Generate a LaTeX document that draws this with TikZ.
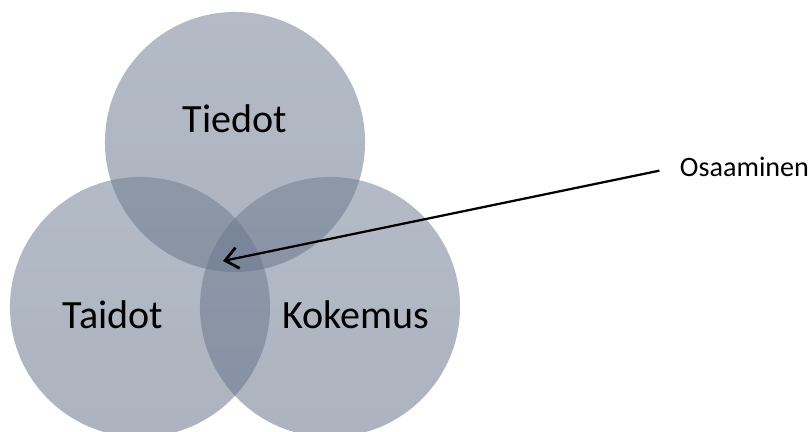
\documentclass[tikz,border=0pt]{standalone}
\usepackage{fontspec}
\setmainfont{Carlito}
\usetikzlibrary{arrows.meta, positioning}

\definecolor{venn}{RGB}{103,117,140}
\definecolor{vennyla}{RGB}{110,124,146}
\definecolor{vennala}{RGB}{97,111,134}

\begin{document}
\begin{tikzpicture}[x=0.025cm, y=-0.025cm, >={Straight Barb[length=9pt, width=15pt, line width=2pt]},
    ympyra/.style={circle, minimum size=6.5cm, inner sep=0pt, top color=vennyla, bottom color=vennala, fill opacity=0.52, draw=none},
    otsikko/.style={font=\fontsize{28.5}{34}\selectfont, anchor=base, inner sep=0pt}]
    \useasboundingbox (0,0) rectangle (810,432);
    % ympyrat
    \node[ympyra] (tiedot) at (235,142) {};
    \node[ympyra] (taidot) at (140,307) {};
    \node[ympyra] (kokemus) at (330,307) {};
    % tekstit
    \node[otsikko] (t1) at (235,133) {Tiedot};
    \node[otsikko] (t2) at (113,329) {Taidot};
    \node[otsikko] (t3) at (356,329) {Kokemus};
    \node[font=\fontsize{20}{24}\selectfont, anchor=base west] (osaaminen) at (675,177) {Osaaminen};
    \coordinate (ydin) at (223,261);
    \draw[->, line width=1.6pt, shorten <=0.4cm] (osaaminen.west) -- (ydin);
\end{tikzpicture}
\end{document}
